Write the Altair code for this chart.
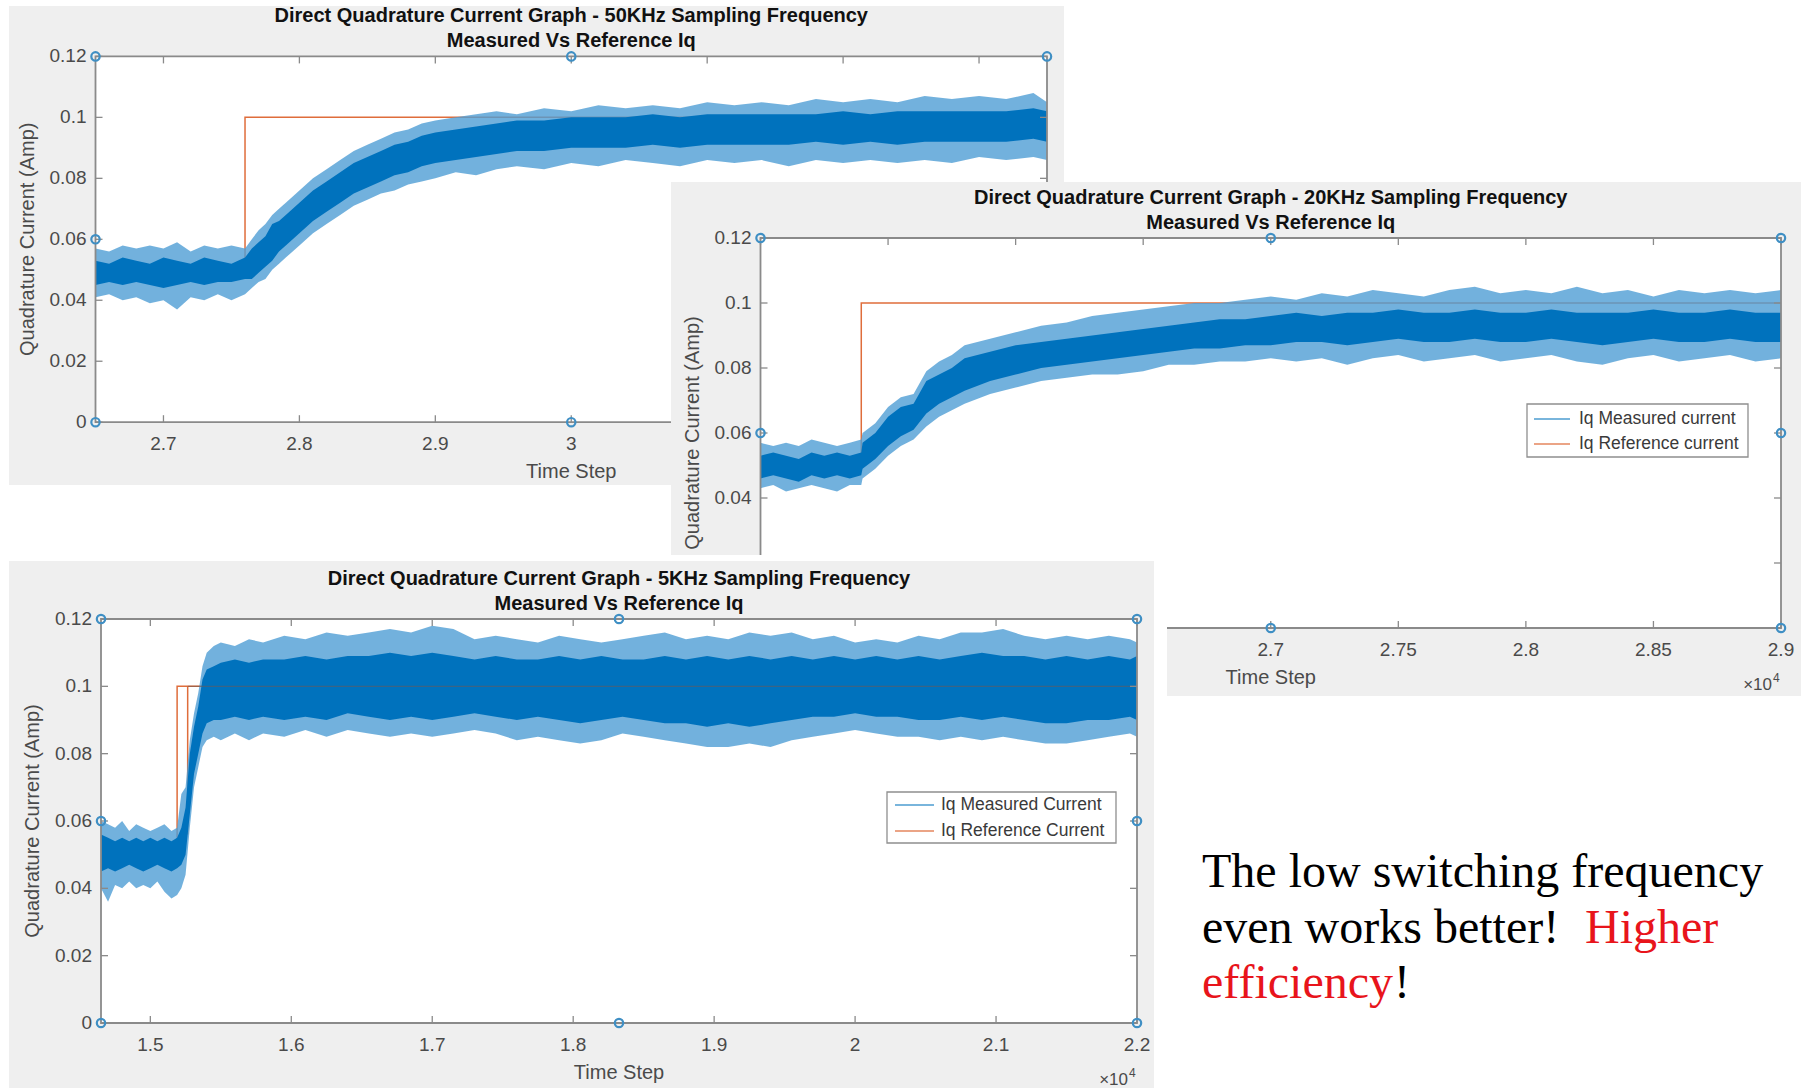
import altair as alt
import pandas as pd

# ================= Panel 1 : 50 kHz =================
P1_TITLE = ["Direct Quadrature Current Graph - 50KHz Sampling Frequency", "Measured Vs Reference Iq"]
P1_XDOM = [2.65, 3.35]
P1_XTICKS = [2.7, 2.8, 2.9, 3.0, 3.1, 3.2, 3.3]
P1_XLABELS = ["2.7", "2.8", "2.9", "3", "3.1", "3.2", "3.3"]
P1_XLABEL_SHOWN = [2.65, 3.0]   # labels beyond 3 lie under the 20 kHz screenshot
P1_T = [2.650, 2.660, 2.670, 2.680, 2.690, 2.700, 2.710, 2.720, 2.730, 2.740, 2.750, 2.760,
        2.765, 2.770, 2.775, 2.780, 2.785, 2.790, 2.800, 2.810, 2.820, 2.830, 2.840, 2.850,
        2.860, 2.870, 2.880, 2.890, 2.900, 2.915, 2.930, 2.945, 2.960, 2.980,
        3.000, 3.020, 3.040, 3.060, 3.080, 3.100, 3.120, 3.140, 3.160, 3.180, 3.200, 3.220,
        3.240, 3.260, 3.280, 3.300, 3.320, 3.340, 3.350]
P1_IN_LO = [0.045, 0.046, 0.045, 0.046, 0.045, 0.044, 0.045, 0.046, 0.045, 0.046, 0.046, 0.047,
            0.047, 0.049, 0.051, 0.053, 0.056, 0.058, 0.062, 0.066, 0.069, 0.072, 0.075, 0.077,
            0.079, 0.081, 0.082, 0.084, 0.085, 0.086, 0.087, 0.088, 0.089, 0.089,
            0.090, 0.090, 0.090, 0.091, 0.090, 0.091, 0.091, 0.091, 0.091, 0.092, 0.091, 0.092,
            0.091, 0.092, 0.092, 0.092, 0.092, 0.093, 0.092]
P1_IN_HI = [0.053, 0.052, 0.054, 0.053, 0.052, 0.054, 0.053, 0.052, 0.054, 0.053, 0.052, 0.054,
            0.057, 0.059, 0.061, 0.065, 0.066, 0.068, 0.072, 0.076, 0.079, 0.082, 0.085, 0.087,
            0.089, 0.091, 0.092, 0.094, 0.095, 0.096, 0.097, 0.098, 0.099, 0.099,
            0.100, 0.100, 0.100, 0.101, 0.100, 0.101, 0.101, 0.101, 0.101, 0.101, 0.102, 0.101,
            0.102, 0.102, 0.102, 0.102, 0.102, 0.103, 0.102]
P1_OUT_LO = [0.041, 0.042, 0.040, 0.041, 0.039, 0.040, 0.037, 0.041, 0.040, 0.042, 0.040, 0.042,
             0.044, 0.046, 0.047, 0.050, 0.052, 0.054, 0.058, 0.062, 0.065, 0.068, 0.071, 0.073,
             0.075, 0.076, 0.078, 0.079, 0.080, 0.082, 0.081, 0.083, 0.084, 0.083,
             0.085, 0.084, 0.086, 0.085, 0.084, 0.086, 0.085, 0.086, 0.084, 0.086, 0.085, 0.086,
             0.085, 0.086, 0.085, 0.087, 0.086, 0.087, 0.086]
P1_OUT_HI = [0.057, 0.056, 0.058, 0.057, 0.058, 0.057, 0.059, 0.056, 0.058, 0.057, 0.058, 0.057,
             0.060, 0.063, 0.065, 0.068, 0.070, 0.072, 0.076, 0.080, 0.083, 0.086, 0.089, 0.091,
             0.093, 0.095, 0.096, 0.098, 0.099, 0.100, 0.101, 0.102, 0.101, 0.103,
             0.102, 0.104, 0.103, 0.104, 0.103, 0.105, 0.104, 0.105, 0.104, 0.106, 0.105, 0.106,
             0.105, 0.107, 0.106, 0.107, 0.106, 0.108, 0.105]
P1_REF_T = [2.65, 2.76, 2.76, 3.35]
P1_REF_V = [0.05, 0.05, 0.10, 0.10]

# ================= Panel 2 : 20 kHz =================
P2_TITLE = ["Direct Quadrature Current Graph - 20KHz Sampling Frequency", "Measured Vs Reference Iq"]
P2_XDOM = [2.5, 2.9]
P2_XTICKS = [2.5, 2.55, 2.6, 2.65, 2.7, 2.75, 2.8, 2.85, 2.9]
P2_XLABELS = ["2.5", "2.55", "2.6", "2.65", "2.7", "2.75", "2.8", "2.85", "2.9"]
P2_XLABEL_SHOWN = [2.7, 2.9]    # labels left of 2.7 lie under the 5 kHz screenshot
P2_LEGEND = ["Iq Measured current", "Iq Reference current"]
P2_T = [2.500, 2.505, 2.510, 2.515, 2.520, 2.525, 2.530, 2.535, 2.5395,
        2.540, 2.545, 2.550, 2.555, 2.560, 2.565, 2.570, 2.575, 2.580, 2.590, 2.600,
        2.610, 2.620, 2.630, 2.640, 2.650, 2.660, 2.670, 2.680, 2.690, 2.700,
        2.710, 2.720, 2.730, 2.740, 2.750, 2.760, 2.770, 2.780, 2.790, 2.800,
        2.810, 2.820, 2.830, 2.840, 2.850, 2.860, 2.870, 2.880, 2.890, 2.900]
P2_IN_LO = [0.046, 0.047, 0.046, 0.045, 0.047, 0.046, 0.047, 0.046, 0.047,
            0.049, 0.052, 0.056, 0.059, 0.061, 0.066, 0.069, 0.071, 0.073, 0.076, 0.078,
            0.080, 0.081, 0.082, 0.083, 0.084, 0.085, 0.086, 0.086, 0.087, 0.087,
            0.088, 0.088, 0.087, 0.088, 0.089, 0.088, 0.088, 0.089, 0.088, 0.088,
            0.089, 0.088, 0.087, 0.088, 0.089, 0.088, 0.088, 0.089, 0.088, 0.088]
P2_IN_HI = [0.053, 0.054, 0.053, 0.052, 0.054, 0.053, 0.054, 0.053, 0.054,
            0.057, 0.060, 0.065, 0.068, 0.069, 0.076, 0.078, 0.080, 0.083, 0.085, 0.087,
            0.088, 0.089, 0.090, 0.091, 0.092, 0.093, 0.094, 0.095, 0.095, 0.096,
            0.097, 0.096, 0.097, 0.097, 0.098, 0.097, 0.097, 0.098, 0.097, 0.097,
            0.098, 0.097, 0.097, 0.097, 0.098, 0.097, 0.097, 0.098, 0.097, 0.097]
P2_OUT_LO = [0.043, 0.044, 0.042, 0.043, 0.044, 0.043, 0.042, 0.044, 0.044,
             0.046, 0.049, 0.053, 0.056, 0.058, 0.062, 0.065, 0.067, 0.069, 0.072, 0.074,
             0.076, 0.077, 0.078, 0.078, 0.079, 0.081, 0.081, 0.082, 0.082, 0.083,
             0.082, 0.083, 0.081, 0.083, 0.084, 0.082, 0.083, 0.084, 0.082, 0.083,
             0.084, 0.082, 0.081, 0.083, 0.084, 0.082, 0.083, 0.084, 0.082, 0.083]
P2_OUT_HI = [0.057, 0.056, 0.057, 0.056, 0.058, 0.057, 0.056, 0.057, 0.058,
             0.060, 0.063, 0.068, 0.071, 0.072, 0.079, 0.082, 0.084, 0.087, 0.089, 0.091,
             0.093, 0.094, 0.096, 0.097, 0.098, 0.099, 0.100, 0.100, 0.101, 0.102,
             0.101, 0.103, 0.102, 0.104, 0.103, 0.102, 0.104, 0.105, 0.103, 0.104,
             0.103, 0.105, 0.103, 0.104, 0.102, 0.104, 0.103, 0.104, 0.103, 0.104]
P2_REF_T = [2.5, 2.5395, 2.5395, 2.9]
P2_REF_V = [0.05, 0.05, 0.10, 0.10]
P2_YLABEL_MIN = 0.04   # lower y labels of this panel lie under the 5 kHz screenshot

# ================= Panel 3 : 5 kHz =================
P3_TITLE = ["Direct Quadrature Current Graph - 5KHz Sampling Frequency", "Measured Vs Reference Iq"]
P3_XDOM = [1.465, 2.2]
P3_XTICKS = [1.5, 1.6, 1.7, 1.8, 1.9, 2.0, 2.1, 2.2]
P3_XLABELS = ["1.5", "1.6", "1.7", "1.8", "1.9", "2", "2.1", "2.2"]
P3_LEGEND = ["Iq Measured Current", "Iq Reference Current"]
P3_T = [1.465, 1.470, 1.475, 1.480, 1.485, 1.490, 1.495, 1.500, 1.505, 1.510, 1.515, 1.519,
        1.522, 1.525, 1.528, 1.531, 1.534, 1.537, 1.540, 1.545, 1.550,
        1.560, 1.570, 1.580,
        1.595, 1.610, 1.625, 1.640, 1.655, 1.670, 1.685, 1.700, 1.715, 1.730, 1.745, 1.760,
        1.775, 1.790, 1.805, 1.820, 1.835, 1.850, 1.865, 1.880, 1.895, 1.910, 1.925, 1.940,
        1.955, 1.970, 1.985, 2.000, 2.015, 2.030, 2.045, 2.060, 2.075, 2.090, 2.105, 2.120,
        2.135, 2.150, 2.165, 2.180, 2.195,
        2.200]
P3_IN_LO = [0.045, 0.046, 0.045, 0.046, 0.047, 0.046, 0.045, 0.046, 0.047, 0.046, 0.045, 0.046,
            0.047, 0.050, 0.062, 0.074, 0.080, 0.086, 0.089, 0.090, 0.090,
            0.091, 0.090, 0.091,
            0.090, 0.091, 0.090, 0.092, 0.091, 0.090, 0.091, 0.090, 0.091, 0.092, 0.091, 0.090,
            0.091, 0.090, 0.089, 0.090, 0.091, 0.090, 0.089, 0.089, 0.088, 0.089, 0.088, 0.089,
            0.090, 0.091, 0.091, 0.092, 0.091, 0.091, 0.090, 0.090, 0.091, 0.090, 0.091, 0.090,
            0.089, 0.089, 0.090, 0.090, 0.091,
            0.090]
P3_IN_HI = [0.056, 0.055, 0.054, 0.055, 0.054, 0.055, 0.054, 0.055, 0.054, 0.055, 0.054, 0.055,
            0.058, 0.064, 0.080, 0.088, 0.094, 0.102, 0.105, 0.106, 0.107,
            0.108, 0.107, 0.108,
            0.108, 0.109, 0.108, 0.109, 0.109, 0.110, 0.109, 0.110, 0.109, 0.108, 0.109, 0.108,
            0.108, 0.109, 0.108, 0.109, 0.108, 0.108, 0.109, 0.108, 0.109, 0.108, 0.109, 0.108,
            0.109, 0.108, 0.109, 0.108, 0.109, 0.108, 0.109, 0.108, 0.109, 0.110, 0.109, 0.109,
            0.108, 0.109, 0.108, 0.109, 0.108,
            0.109]
P3_OUT_LO = [0.040, 0.036, 0.041, 0.040, 0.042, 0.040, 0.041, 0.040, 0.042, 0.039, 0.037, 0.038,
             0.040, 0.044, 0.058, 0.070, 0.076, 0.082, 0.084, 0.085, 0.084,
             0.086, 0.084, 0.086,
             0.085, 0.087, 0.085, 0.087, 0.086, 0.085, 0.086, 0.085, 0.086, 0.087, 0.086, 0.084,
             0.085, 0.084, 0.083, 0.084, 0.086, 0.085, 0.084, 0.083, 0.082, 0.082, 0.083, 0.082,
             0.084, 0.085, 0.086, 0.087, 0.086, 0.085, 0.085, 0.084, 0.085, 0.084, 0.085, 0.084,
             0.083, 0.083, 0.084, 0.085, 0.086,
             0.085]
P3_OUT_HI = [0.060, 0.059, 0.058, 0.060, 0.057, 0.059, 0.058, 0.057, 0.058, 0.059, 0.057, 0.058,
             0.068, 0.070, 0.084, 0.092, 0.098, 0.106, 0.110, 0.112, 0.113,
             0.112, 0.114, 0.113,
             0.115, 0.114, 0.116, 0.115, 0.116, 0.117, 0.116, 0.118, 0.117, 0.114, 0.115, 0.114,
             0.113, 0.115, 0.114, 0.113, 0.114, 0.115, 0.116, 0.114, 0.115, 0.114, 0.116, 0.115,
             0.116, 0.114, 0.115, 0.113, 0.114, 0.113, 0.115, 0.114, 0.116, 0.116, 0.117, 0.115,
             0.114, 0.115, 0.114, 0.115, 0.114,
             0.113]
P3_REF_T = [1.465, 1.519, 1.519, 1.5265, 1.5265, 1.5265, 2.2]
P3_REF_V = [0.05, 0.05, 0.10, 0.10, 0.056, 0.10, 0.10]

# shared y axis
Y_DOM = [0, 0.12]
Y_TICKS = [0, 0.02, 0.04, 0.06, 0.08, 0.10, 0.12]
Y_LABELS = ["0", "0.02", "0.04", "0.06", "0.08", "0.1", "0.12"]
X_TITLE = "Time Step"
Y_TITLE = "Quadrature Current (Amp)"

NOTE_LINE1 = "The low switching frequency"
NOTE_LINE2A = "even works better!"
NOTE_LINE2B = "Higher"
NOTE_LINE3A = "efficiency"
NOTE_LINE3B = "!"

# ---------------- styling ----------------
SANS = "Liberation Sans"
SERIF = "Liberation Serif"
FIG_BG = "#efefef"
AXC = "#8a8a8a"
LABC = "#4a4a4a"
BLUE = "#0072BD"
BLUE_LIGHT = "#4f9dd5"
ORANGE = "#D95319"
HANDLE = "#3f8fc4"

ONE = pd.DataFrame({"k": [0]})


def panel(geo, t, in_lo, in_hi, out_lo, out_hi, ref_t, ref_v, xdom, xticks, xlabels,
          title, legend=None, ref_overlay=False, ylabel_min=None, xlabel_shown=None,
          show_exp=True):
    L, R, T, B = geo["L"], geo["R"], geo["T"], geo["B"]
    bx0, by0, bx1, by1 = geo["bg"]
    xs = alt.Scale(domain=xdom, range=[L, R], nice=False, zero=False)
    ys = alt.Scale(domain=Y_DOM, range=[B, T], nice=False, zero=False)

    def X(f):
        return alt.X(f, type="quantitative", scale=xs, axis=None)

    def Y(f):
        return alt.Y(f, type="quantitative", scale=ys, axis=None)

    cx = (L + R) / 2
    cy = (T + B) / 2
    layers = []
    # white margin of the screenshot, figure background and white axes area
    if "margin" in geo:
        mx0, my0, mx1, my1 = geo["margin"]
        layers.append(alt.Chart(ONE).mark_rect(fill="white").encode(
            x=alt.value(mx0), x2=alt.value(mx1), y=alt.value(my0), y2=alt.value(my1)))
    layers.append(alt.Chart(ONE).mark_rect(fill=FIG_BG).encode(
        x=alt.value(bx0), x2=alt.value(bx1), y=alt.value(by0), y2=alt.value(by1)))
    layers.append(alt.Chart(ONE).mark_rect(fill="white").encode(
        x=alt.value(L), x2=alt.value(R), y=alt.value(T), y2=alt.value(B)))

    meas = pd.DataFrame([
        {"t": a, "in_lo": b, "in_hi": c, "out_lo": d, "out_hi": e}
        for a, b, c, d, e in zip(t, in_lo, in_hi, out_lo, out_hi)])
    ref = pd.DataFrame({"t": ref_t, "v": ref_v, "i": list(range(len(ref_t)))})

    layers.append(alt.Chart(ref).mark_line(color=ORANGE, strokeWidth=1.5, opacity=0.85).encode(
        x=X("t"), y=Y("v"), order=alt.Order("i:Q")))
    layers.append(alt.Chart(meas).mark_area(color=BLUE_LIGHT, opacity=0.8).encode(
        x=X("t"), y=Y("out_lo"), y2=alt.Y2("out_hi")))
    layers.append(alt.Chart(meas).mark_area(color=BLUE, opacity=1).encode(
        x=X("t"), y=Y("in_lo"), y2=alt.Y2("in_hi")))
    if ref_overlay:
        # the reference line shows faintly through the measured band on its final level
        top = ref[(ref["v"] == max(ref_v)) & (ref["t"] >= ref["t"].iloc[-3])]
        layers.append(alt.Chart(top).mark_line(color="#6b5a55", strokeWidth=1.4, opacity=0.55).encode(
            x=X("t"), y=Y("v"), order=alt.Order("i:Q")))

    # box
    layers.append(alt.Chart(ONE).mark_rect(fillOpacity=0, stroke=AXC, strokeWidth=1.8).encode(
        x=alt.value(L), x2=alt.value(R), y=alt.value(T), y2=alt.value(B)))

    xt = pd.DataFrame({"v": xticks, "lab": xlabels})
    yt = pd.DataFrame({"v": Y_TICKS, "lab": Y_LABELS})
    # ticks (inside, all four sides)
    layers.append(alt.Chart(xt).mark_rule(color=AXC, strokeWidth=1.3).encode(
        x=X("v"), y=alt.value(B), y2=alt.value(B - 7)))
    layers.append(alt.Chart(xt).mark_rule(color=AXC, strokeWidth=1.3).encode(
        x=X("v"), y=alt.value(T), y2=alt.value(T + 7)))
    layers.append(alt.Chart(yt).mark_rule(color=AXC, strokeWidth=1.3).encode(
        y=Y("v"), x=alt.value(L), x2=alt.value(L + 7)))
    layers.append(alt.Chart(yt).mark_rule(color=AXC, strokeWidth=1.3).encode(
        y=Y("v"), x=alt.value(R), x2=alt.value(R - 7)))

    # selection handles on the axes box
    hx = [xdom[0], (xdom[0] + xdom[1]) / 2, xdom[1]]
    hy = [Y_DOM[0], (Y_DOM[0] + Y_DOM[1]) / 2, Y_DOM[1]]
    hd = pd.DataFrame([{"hx": a, "hy": b} for a in hx for b in hy if not (a == hx[1] and b == hy[1])])
    layers.append(alt.Chart(hd).mark_point(shape="circle", filled=False, color=HANDLE,
                                           size=70, strokeWidth=2.2, opacity=1).encode(
        x=X("hx"), y=Y("hy")))

    # tick labels (only those not covered by another screenshot)
    xtl = xt if xlabel_shown is None else xt[(xt["v"] >= xlabel_shown[0] - 1e-9) &
                                             (xt["v"] <= xlabel_shown[1] + 1e-9)]
    layers.append(alt.Chart(xtl).mark_text(font=SANS, fontSize=19, color=LABC,
                                           align="center", baseline="middle").encode(
        x=X("v"), y=alt.value(B + 22), text="lab:N"))
    ytl = yt if ylabel_min is None else yt[yt["v"] >= ylabel_min]
    layers.append(alt.Chart(ytl).mark_text(font=SANS, fontSize=19, color=LABC,
                                           align="right", baseline="middle").encode(
        y=Y("v"), x=alt.value(L - 9), text="lab:N"))

    # axis titles
    layers.append(alt.Chart(ONE).mark_text(text=X_TITLE, font=SANS, fontSize=20, color=LABC,
                                           align="center", baseline="middle").encode(
        x=alt.value(cx), y=alt.value(B + 50)))
    layers.append(alt.Chart(ONE).mark_text(text=Y_TITLE, font=SANS, fontSize=20, color=LABC,
                                           align="center", baseline="middle", angle=270).encode(
        x=alt.value(L - 68), y=alt.value(cy)))
    if show_exp:
        layers.append(alt.Chart(ONE).mark_text(text="\u00d710", font=SANS, fontSize=17, color=LABC,
                                               align="right", baseline="middle").encode(
            x=alt.value(R - 9), y=alt.value(B + 57)))
        layers.append(alt.Chart(ONE).mark_text(text="4", font=SANS, fontSize=12, color=LABC,
                                               align="left", baseline="middle").encode(
            x=alt.value(R - 8), y=alt.value(B + 50)))

    # title (two lines)
    layers.append(alt.Chart(ONE).mark_text(text=title[0], font=SANS, fontSize=20, fontWeight="bold",
                                           color="#111111", align="center", baseline="middle").encode(
        x=alt.value(cx), y=alt.value(T - 40)))
    layers.append(alt.Chart(ONE).mark_text(text=title[1], font=SANS, fontSize=20, fontWeight="bold",
                                           color="#111111", align="center", baseline="middle").encode(
        x=alt.value(cx), y=alt.value(T - 15)))

    if legend is not None:
        lg = geo["legend"]
        lx0, ly0, lx1, ly1 = lg["box"]
        layers.append(alt.Chart(ONE).mark_rect(fill="white", stroke="#8f8f8f", strokeWidth=1.3).encode(
            x=alt.value(lx0), x2=alt.value(lx1), y=alt.value(ly0), y2=alt.value(ly1)))
        for name, row, col in zip(legend, lg["rows"], [BLUE, ORANGE]):
            layers.append(alt.Chart(ONE).mark_rule(color=col, strokeWidth=1.4, opacity=0.7).encode(
                x=alt.value(lg["line"][0]), x2=alt.value(lg["line"][1]), y=alt.value(row)))
            layers.append(alt.Chart(ONE).mark_text(text=name, font=SANS, fontSize=17.5, color="#3a3a3a",
                                                   align="left", baseline="middle").encode(
                x=alt.value(lg["text"]), y=alt.value(row)))
    return layers


G1 = {"L": 95.5, "R": 1047, "T": 56.4, "B": 422.2, "bg": (9, 6, 1064, 485)}
G2 = {"L": 760.5, "R": 1781, "T": 238, "B": 628, "bg": (671, 182, 1801, 696),
      "legend": {"box": (1527, 404, 1748, 457), "rows": (419, 444), "line": (1534, 1570), "text": 1579}}
G3 = {"L": 101, "R": 1137, "T": 619, "B": 1023, "bg": (9, 561, 1154, 1088),
      "margin": (9, 555, 1167, 1088),
      "legend": {"box": (887, 792, 1116, 843), "rows": (805, 831), "line": (895, 934), "text": 941}}

p1 = panel(G1, P1_T, P1_IN_LO, P1_IN_HI, P1_OUT_LO, P1_OUT_HI, P1_REF_T, P1_REF_V,
           P1_XDOM, P1_XTICKS, P1_XLABELS, P1_TITLE, xlabel_shown=P1_XLABEL_SHOWN, show_exp=False)
p2 = panel(G2, P2_T, P2_IN_LO, P2_IN_HI, P2_OUT_LO, P2_OUT_HI, P2_REF_T, P2_REF_V,
           P2_XDOM, P2_XTICKS, P2_XLABELS, P2_TITLE, legend=P2_LEGEND, ylabel_min=P2_YLABEL_MIN,
           xlabel_shown=P2_XLABEL_SHOWN)
p3 = panel(G3, P3_T, P3_IN_LO, P3_IN_HI, P3_OUT_LO, P3_OUT_HI, P3_REF_T, P3_REF_V,
           P3_XDOM, P3_XTICKS, P3_XLABELS, P3_TITLE, legend=P3_LEGEND, ref_overlay=True)


def note(txt, x, y, color):
    return alt.Chart(ONE).mark_text(text=txt, font=SERIF, fontSize=48, color=color,
                                    align="left", baseline="alphabetic").encode(
        x=alt.value(x), y=alt.value(y))


notes = [
    note(NOTE_LINE1, 1202, 887, "black"),
    note(NOTE_LINE2A, 1202, 943, "black"),
    note(NOTE_LINE2B, 1585, 943, "#e8141b"),
    note(NOTE_LINE3A, 1202, 998, "#e8141b"),
    note(NOTE_LINE3B, 1394, 998, "black"),
]

chart = alt.layer(*p1, *p2, *p3, *notes).resolve_scale(
    x="independent", y="independent"
).properties(
    width=1804, height=1088, padding=0, background="white",
    autosize=alt.AutoSizeParams(type="none")
).configure_view(stroke=None)

chart.save("out.html", embed_options={"renderer": "svg", "actions": False})
